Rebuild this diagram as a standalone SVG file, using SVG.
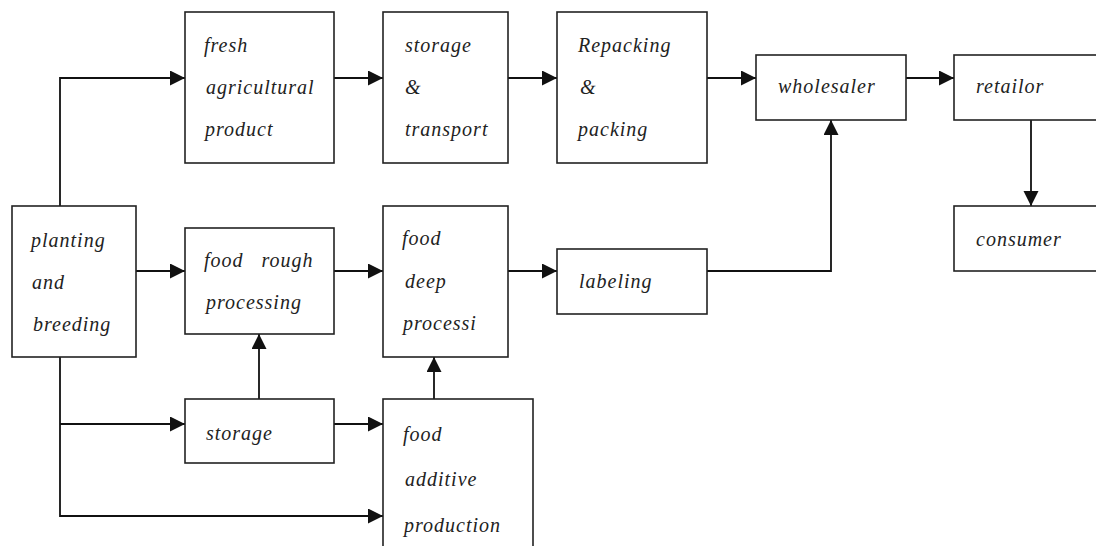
<svg xmlns="http://www.w3.org/2000/svg" width="1096" height="546" viewBox="0 0 1096 546">
<style>
.box{fill:#fff;stroke:#222;stroke-width:1.6}
.t{font-family:"Liberation Serif","Times New Roman",serif;font-style:italic;font-size:20px;letter-spacing:1px;fill:#222;white-space:pre}
.c{fill:none;stroke:#111;stroke-width:1.8;marker-end:url(#ah)}
</style>
<defs>
<marker id="ah" markerUnits="userSpaceOnUse" markerWidth="16" markerHeight="16" refX="15" refY="7.5" orient="auto">
<path d="M0,0 L15,7.5 L0,15 z" fill="#111"/>
</marker>
</defs>
<rect width="1096" height="546" fill="#fff"/>
<g id="connectors">
<path class="c" d="M60,206 V78 H185"/>
<path class="c" d="M334,78 H383"/>
<path class="c" d="M508,78 H557"/>
<path class="c" d="M707,78 H756"/>
<path class="c" d="M906,78 H954"/>
<path class="c" d="M1031,120 V206"/>
<path class="c" d="M136,271 H185"/>
<path class="c" d="M334,271 H383"/>
<path class="c" d="M508,271 H557"/>
<path class="c" d="M707,271 H831 V120"/>
<path class="c" d="M60,357 V516 H383"/>
<path class="c" d="M60,424 H185"/>
<path class="c" d="M259,399 V334"/>
<path class="c" d="M334,424 H383"/>
<path class="c" d="M434,399 V357"/>
</g>
<g id="fresh">
<rect class="box" x="185" y="12" width="149" height="151"/>
<text class="t" x="204" y="52">fresh</text>
<text class="t" x="206" y="94">agricultural</text>
<text class="t" x="205" y="136">product</text>
</g>
<g id="storage-transport">
<rect class="box" x="383" y="12" width="125" height="151"/>
<text class="t" x="405" y="52">storage</text>
<text class="t" x="405" y="94">&amp;</text>
<text class="t" x="405" y="136">transport</text>
</g>
<g id="repacking">
<rect class="box" x="557" y="12" width="150" height="151"/>
<text class="t" x="578" y="52">Repacking</text>
<text class="t" x="580" y="94">&amp;</text>
<text class="t" x="578" y="136">packing</text>
</g>
<g id="wholesaler">
<rect class="box" x="756" y="55" width="150" height="65"/>
<text class="t" x="778" y="93">wholesaler</text>
</g>
<g id="retailor">
<rect class="box" x="954" y="55" width="150" height="65"/>
<text class="t" x="976" y="93">retailor</text>
</g>
<g id="consumer">
<rect class="box" x="954" y="206" width="150" height="65"/>
<text class="t" x="976" y="246">consumer</text>
</g>
<g id="planting">
<rect class="box" x="12" y="206" width="124" height="151"/>
<text class="t" x="31" y="247">planting</text>
<text class="t" x="32" y="289">and</text>
<text class="t" x="33" y="331">breeding</text>
</g>
<g id="rough">
<rect class="box" x="185" y="228" width="149" height="106"/>
<text class="t" x="204" y="267">food   rough</text>
<text class="t" x="206" y="309">processing</text>
</g>
<g id="deep">
<rect class="box" x="383" y="206" width="125" height="151"/>
<text class="t" x="402" y="245">food</text>
<text class="t" x="405" y="288">deep</text>
<text class="t" x="403" y="330">processi</text>
</g>
<g id="labeling">
<rect class="box" x="557" y="249" width="150" height="65"/>
<text class="t" x="579" y="288">labeling</text>
</g>
<g id="storage">
<rect class="box" x="185" y="399" width="149" height="64"/>
<text class="t" x="206" y="440">storage</text>
</g>
<g id="additive">
<rect class="box" x="383" y="399" width="150" height="160"/>
<text class="t" x="403" y="441">food</text>
<text class="t" x="405" y="486">additive</text>
<text class="t" x="404" y="532">production</text>
</g>
</svg>
